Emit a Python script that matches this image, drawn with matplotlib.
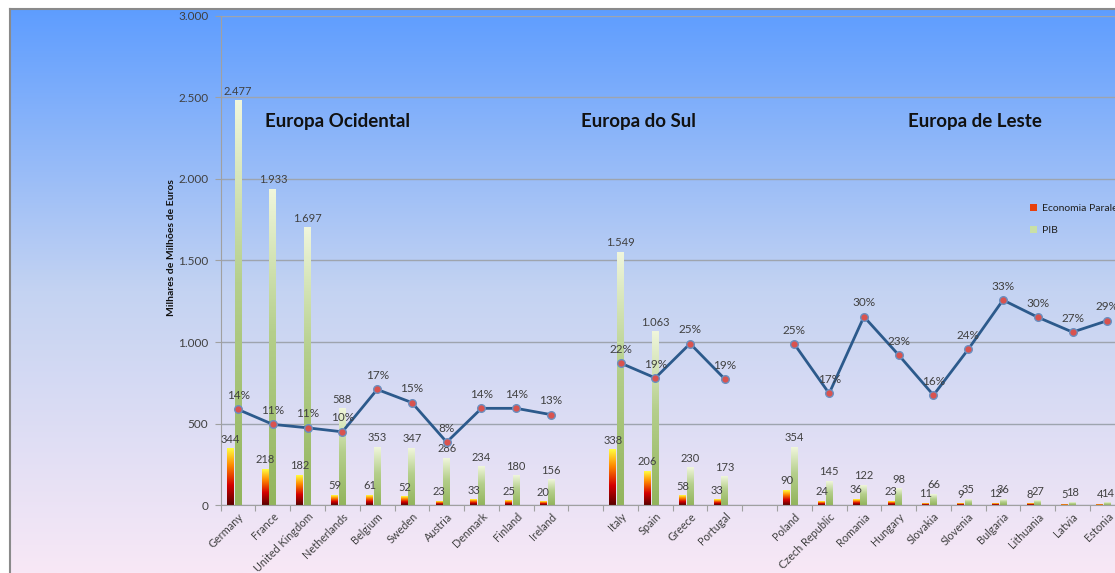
import numpy as np
import matplotlib.pyplot as plt
from matplotlib.colors import LinearSegmentedColormap
from matplotlib.patches import Patch
from matplotlib.lines import Line2D

plt.rcParams['font.family'] = ['Lato', 'DejaVu Sans']

# --- data ---
western = ['Germany', 'France', 'United Kingdom', 'Netherlands', 'Belgium',
           'Sweden', 'Austria', 'Denmark', 'Finland', 'Ireland']
southern = ['Italy', 'Spain', 'Greece', 'Portugal']
eastern = ['Poland', 'Czech Republic', 'Romania', 'Hungary', 'Slovakia',
           'Slovenia', 'Bulgaria', 'Lithuania', 'Latvia', 'Estonia']
group_titles = ['Europa Ocidental', 'Europa do Sul', 'Europa de Leste']

economia = [344, 218, 182, 59, 61, 52, 23, 33, 25, 20,
            338, 206, 58, 33,
            90, 24, 36, 23, 11, 9, 12, 8, 5, 4]
pib = [2477, 1933, 1697, 588, 353, 347, 286, 234, 180, 156,
       1549, 1063, 230, 173,
       354, 145, 122, 98, 66, 35, 36, 27, 18, 14]
share = [0.139, 0.113, 0.107, 0.100, 0.174, 0.151, 0.082, 0.141, 0.141, 0.130,
         0.220, 0.194, 0.254, 0.192,
         0.253, 0.167, 0.301, 0.234, 0.164, 0.244, 0.330, 0.300, 0.274, 0.294]

groups = [western, southern, eastern]
countries = western + southern + eastern

# one empty category slot between the regions
pos = []
start = 0
for g in groups:
    pos.extend(range(start, start + len(g)))
    start += len(g) + 1
x = np.array(pos, dtype=float)
n_slots = start - 1

W, H = 1115, 573
fig = plt.figure(figsize=(W / 100, H / 100), dpi=100)
fig.patch.set_facecolor('white')

# chart area background gradient
bg = fig.add_axes([10 / W, 0, 1 - 10 / W, 1 - 9 / H])
bg_cmap = LinearSegmentedColormap.from_list('bg', ['#f8e8f6', '#c4d3f2', '#5e9dff'])
bg.imshow(np.linspace(0, 1, 256).reshape(-1, 1), aspect='auto', cmap=bg_cmap,
          origin='lower', extent=[0, 1, 0, 1])
bg.axis('off')
fig.add_artist(Line2D([10 / W, 10 / W], [0, 1 - 9 / H], color='#8a8a8a', lw=1.5))
fig.add_artist(Line2D([10 / W, 1], [1 - 9 / H, 1 - 9 / H], color='#8a8a8a', lw=1.5))

ax = fig.add_axes([220.7 / W, 1 - 505.3 / H, 904 / W, 489.8 / H])
ax.patch.set_alpha(0)

eco_cmap = LinearSegmentedColormap.from_list(
    'eco', [(0, '#5a0000'), (0.35, '#d40000'), (0.7, '#ff8a00'), (1, '#ffff40')])
pib_cmap = LinearSegmentedColormap.from_list(
    'pib', [(0, '#92b45c'), (0.55, '#b5cf8c'), (1, '#f0f6dc')])
grad = np.linspace(0, 1, 256).reshape(-1, 1)


def fmt(v):
    return f'{v:,}'.replace(',', '.')


def gradient_bars(bars, cmap):
    for r in bars:
        x0, h = r.get_x(), r.get_height()
        ax.imshow(grad, cmap=cmap, origin='lower', aspect='auto', zorder=2,
                  extent=[x0, x0 + r.get_width(), 0, h])
        ax.annotate(fmt(int(h)), (x0 + r.get_width() / 2, h), xytext=(0, 7),
                    textcoords='offset points', ha='center', va='center',
                    fontsize=8, color='#404040', zorder=4)


b_eco = ax.bar(x - 0.22, economia, width=0.2, color='none', zorder=2)
b_pib = ax.bar(x, pib, width=0.2, color='none', zorder=2)
gradient_bars(b_eco, eco_cmap)
gradient_bars(b_pib, pib_cmap)
ax.set_xlim(-0.5, n_slots - 0.5)
ax.set_ylim(0, 3000)

# axes styling
ax.set_yticks(range(0, 3001, 500))
ax.set_yticklabels([fmt(v) for v in range(0, 3001, 500)])
ax.yaxis.grid(True, color='#9ea4ae', lw=1)
ax.set_axisbelow(True)
for s in ['top', 'right']:
    ax.spines[s].set_visible(False)
for s in ['left', 'bottom']:
    ax.spines[s].set_color('#a0a0a0')
ax.tick_params(axis='y', length=4, color='#a0a0a0', labelsize=8.5,
               labelcolor='#404040', pad=5)
ax.set_xticks(np.arange(-0.5, n_slots + 0.5))
ax.set_xticklabels([])
ax.tick_params(axis='x', which='major', length=4, color='#a0a0a0')
ax.set_xticks(x, countries, minor=True)
ax.tick_params(axis='x', which='minor', length=0, labelsize=7.8,
               labelcolor='#404040', pad=4)
plt.setp(ax.get_xticklabels(minor=True), rotation=45, ha='right',
         rotation_mode='anchor')

# region titles
title_x = [0.77, 9.86, 19.27]
for tx, t in zip(title_x, group_titles):
    ax.text(tx, 2353, t, fontsize=13.5, fontweight='bold', color='#111111',
            va='center', ha='left')

fig.text(172 / W, 1 - 248 / H, 'Milhares de Milhões de Euros', rotation=90,
         ha='center', va='center', fontsize=7.5, fontweight='bold', color='#111111')

# share line on hidden secondary axis, one segment per region
ax2 = ax.twinx()
ax2.set_ylim(-0.0282, 0.8265)
ax2.axis('off')
share = np.array(share)
i0 = 0
for g in groups:
    sl = slice(i0, i0 + len(g))
    ax2.plot(x[sl], share[sl], color='#2c5a8c', lw=2, marker='o', ms=5.5,
             mfc='#d9534f', mec='#6a8fc0', mew=1, zorder=3)
    i0 += len(g)
for xi, s in zip(x, share):
    ax2.annotate(f'{round(s * 100)}%', (xi, s), xytext=(0, 10),
                 textcoords='offset points', ha='center', va='center',
                 fontsize=8.5, color='#404040')

handles = [Patch(facecolor='#e8400c'), Patch(facecolor='#c9e0a6')]
fig.legend(handles, ['Economia Paralela', 'PIB'], loc='upper left',
           bbox_to_anchor=(1021 / W, 1 - 195 / H), frameon=False, fontsize=7.5,
           handlelength=0.6, handleheight=0.6, handletextpad=0.5,
           labelspacing=1.2, labelcolor='#202020')

fig.savefig('out.png', dpi=100)
